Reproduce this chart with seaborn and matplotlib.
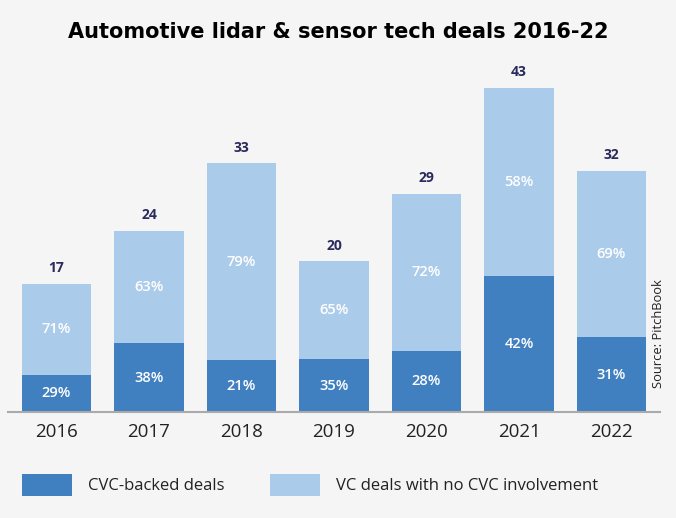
import matplotlib
matplotlib.use("Agg")
import matplotlib.pyplot as plt
import seaborn as sns
import pandas as pd
from matplotlib.patches import Patch

years = ["2016", "2017", "2018", "2019", "2020", "2021", "2022"]
totals = [17, 24, 33, 20, 29, 43, 32]
cvc_pct = [29, 38, 21, 35, 28, 42, 31]
vc_pct = [71, 63, 79, 65, 72, 58, 69]

cvc_counts = [t * p / 100 for t, p in zip(totals, cvc_pct)]
df = pd.DataFrame({"year": years, "total": totals, "cvc": cvc_counts})

BG = "#f5f5f5"
DARK = "#4180c0"
LIGHT = "#abcbea"
NAVY = "#2b2a5c"

sns.set_theme(style="white")
plt.rcParams["font.family"] = ["Open Sans", "DejaVu Sans"]

fig = plt.figure(figsize=(6.76, 5.18), dpi=100, facecolor=BG)
ax = fig.add_axes([8 / 676, 106 / 518, 652 / 676, (412 - 58) / 518])
ax.set_facecolor(BG)

sns.barplot(data=df, x="year", y="total", color=LIGHT, width=0.75,
            saturation=1, ax=ax, edgecolor="none")
sns.barplot(data=df, x="year", y="cvc", color=DARK, width=0.75,
            saturation=1, ax=ax, edgecolor="none")

ax.set_xlim(-0.524, 6.524)
ax.set_ylim(0, 47)
ax.set_xlabel("")
ax.set_ylabel("")
ax.set_yticks([])
for s in ["top", "right", "left"]:
    ax.spines[s].set_visible(False)
ax.spines["bottom"].set_color("#aaaaaa")
ax.spines["bottom"].set_linewidth(1.5)
ax.tick_params(axis="x", length=0, pad=8, labelsize=13.5, labelcolor="#222222")

for i, (t, c, pc, pv) in enumerate(zip(totals, cvc_counts, cvc_pct, vc_pct)):
    ax.text(i, c / 2, f"{pc}%", ha="center", va="center", color="white",
            fontsize=10.5, fontweight="semibold")
    ax.text(i, c + (t - c) / 2, f"{pv}%", ha="center", va="center",
            color="white", fontsize=10.5, fontweight="semibold")
    ax.text(i, t + 2.1, f"{t}", ha="center", va="center", color=NAVY,
            fontsize=10, fontweight="bold")

fig.text(0.5, 1 - 32 / 518, "Automotive lidar & sensor tech deals 2016-22",
         ha="center", va="center", fontsize=15, fontweight="bold",
         family=["DejaVu Sans"], color="black")

fig.text(658 / 676, 1 - 334 / 518, "Source: PitchBook", rotation=90,
         ha="center", va="center", fontsize=9.3, color="#222222")

handles = [Patch(facecolor=DARK, edgecolor="none"),
           Patch(facecolor=LIGHT, edgecolor="none")]
fig.legend(handles, ["CVC-backed deals", "VC deals with no CVC involvement"],
           loc="center left", bbox_to_anchor=(7 / 676, 1 - 485 / 518),
           ncol=2, frameon=False, fontsize=12, handlelength=3.0,
           handleheight=1.6, handletextpad=0.95, columnspacing=2.75,
           labelcolor="#222222")

fig.savefig("out.png", dpi=100, facecolor=BG)
